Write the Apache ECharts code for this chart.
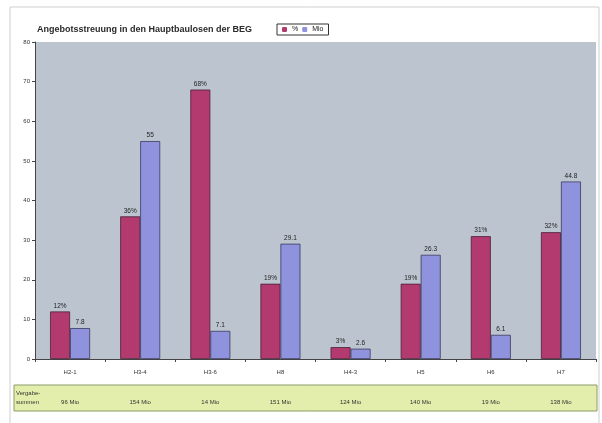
<!DOCTYPE html>
<html><head><meta charset="utf-8">
<script src="https://cdn.jsdelivr.net/npm/echarts@6/dist/echarts.min.js"></script>
<style>html,body{margin:0;padding:0;background:#fff}#c{width:602px;height:423px}</style>
</head><body><div id="c"></div>
<script>
const categories = ["H2-1","H3-4","H3-6","H8","H4-3","H5","H6","H7"];
const pctValues = [12,36,68,19,3,19,31,32];
const mioValues = [7.8,55,7.1,29.1,2.6,26.3,6.1,44.8];
const vergabe = ["96 Mio","154 Mio","14 Mio","151 Mio","124 Mio","140 Mio","19 Mio","138 Mio"];
const yTicks = [0,10,20,30,40,50,60,70,80];

const chart = echarts.init(document.getElementById('c'));
const font = 'Liberation Sans, Arial, sans-serif';
chart.setOption({
  animation:false,
  backgroundColor:'#ffffff',
  textStyle:{fontFamily:font},
  title:{text:'Angebotsstreuung in den Hauptbaulosen der BEG',left:32,top:20,
    textStyle:{fontSize:9,fontWeight:'bold',color:'#2a2a2a',fontFamily:font}},
  legend:{left:277,top:24,itemWidth:5,itemHeight:5,itemGap:4,padding:[2,5],
    borderColor:'#333',borderWidth:1,backgroundColor:'#fff',
    itemStyle:{borderWidth:0},
    textStyle:{fontSize:7,color:'#222'},data:['%','Mio']},
  graphic:[
    {type:'rect',shape:{x:10,y:7,width:589,height:420},style:{fill:'none',stroke:'#cfcfcf',lineWidth:1},z:-1},
    {type:'rect',shape:{x:14,y:385,width:583,height:26},style:{fill:'#e4eeac',stroke:'#8a9a6a',lineWidth:1},z:-1},
    {type:'text',left:16,top:389,style:{text:'Vergabe-\nsummen',fontSize:6,lineHeight:9,fill:'#333',fontFamily:font}}
  ],
  grid:{left:35,right:6,top:42,bottom:64,backgroundColor:'#bcc5cf',show:true,borderWidth:0},
  xAxis:[{type:'category',data:categories,
    axisLine:{lineStyle:{color:'#444'}},axisTick:{show:true,alignWithLabel:false,length:3,lineStyle:{color:'#444'}},
    axisLabel:{fontSize:6,color:'#333',margin:10}},
   {type:'category',data:categories,position:'bottom',offset:0,
    axisLine:{show:false},axisTick:{show:false},
    axisLabel:{fontSize:6,color:'#333',margin:40,formatter:(v,i)=>vergabe[i]}}],
  yAxis:{type:'value',min:0,max:80,interval:10,
    axisLine:{show:true,lineStyle:{color:'#444'}},axisTick:{show:true,length:3,lineStyle:{color:'#444'}},
    splitLine:{show:false},
    axisLabel:{fontSize:6,color:'#333',margin:5,formatter:v=>yTicks.includes(v)?String(v):''}},
  series:[
    {name:'%',type:'bar',data:pctValues,barWidth:20,barGap:'0%',
     itemStyle:{color:'#b23a6e',borderColor:'#4a2038',borderWidth:0.8},
     label:{show:true,position:'top',fontSize:6.5,color:'#222',distance:2,formatter:p=>p.value+'%'}},
    {name:'Mio',type:'bar',data:mioValues,barWidth:20,
     itemStyle:{color:'#8f92dc',borderColor:'#3a3a60',borderWidth:0.8},
     label:{show:true,position:'top',fontSize:6.5,color:'#222',distance:2,formatter:p=>String(p.value)}}
  ]
});
</script></body></html>
